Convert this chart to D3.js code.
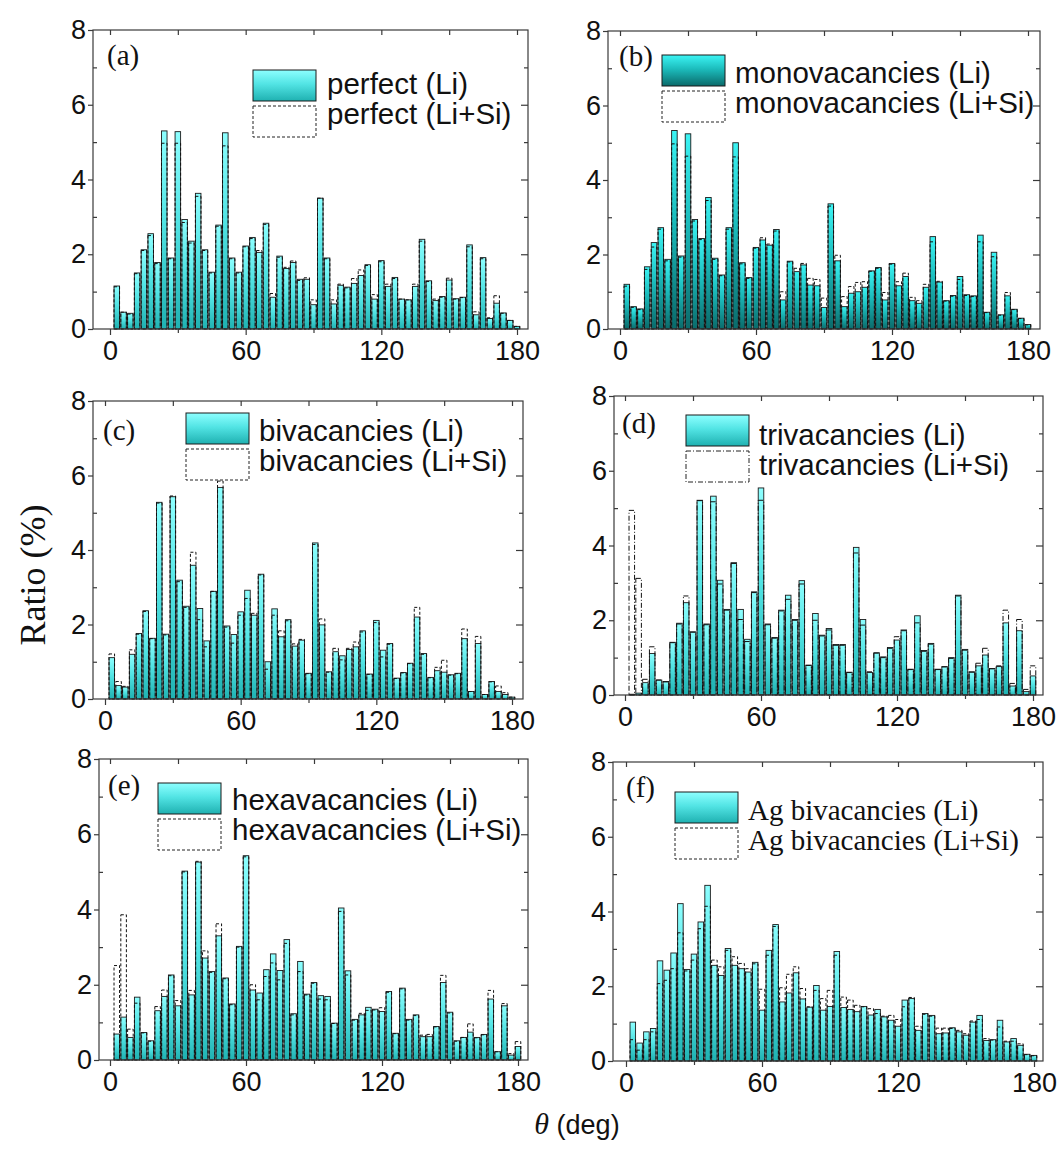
<!DOCTYPE html>
<html><head><meta charset="utf-8">
<script src="https://cdn.jsdelivr.net/npm/d3@7"></script>
<style>body{margin:0;background:#fff} svg{display:block}</style>
</head><body>
<svg id="c" width="1057" height="1153"></svg>
<script>
// bin centres (deg)
const angles = [3,6,9,12,15,18,21,24,27,30,33,36,39,42,45,48,51,54,57,60,63,66,69,72,75,78,81,84,87,90,
  93,96,99,102,105,108,111,114,117,120,123,126,129,132,135,138,141,144,147,150,153,156,159,162,165,168,171,174,177,180];
const xTickLabels = [0,60,120,180];
const yTickLabels = [0,2,4,6,8];

const perfectLi = [1.15,0.45,0.42,1.5,2.12,2.55,1.78,5.3,1.9,5.28,2.93,2.35,3.63,2.12,1.52,2.78,5.25,1.9,1.52,2.22,2.45,2.05,2.83,0.85,1.95,1.62,1.78,1.33,1.33,0.65,3.5,1.9,0.67,1.17,1.12,1.22,1.43,1.72,0.8,1.83,1.14,1.38,0.8,0.78,1.14,2.4,1.29,0.76,0.87,1.31,0.81,0.85,2.25,0.38,1.91,0.28,0.69,0.43,0.23,0.07];
const perfectLiSi = [1.13,0.45,0.4,1.48,2.1,2.5,1.75,4.97,1.88,4.97,2.85,2.3,3.55,2.1,1.5,2.75,4.9,1.88,1.5,2.2,2.42,2.1,2.8,0.95,1.92,1.65,1.82,1.3,1.37,0.78,3.5,1.88,0.78,1.2,1.1,1.35,1.58,1.7,0.92,1.8,1.2,1.35,0.8,0.78,1.2,2.35,1.27,0.8,0.85,1.36,0.8,0.84,2.2,0.46,1.88,0.3,0.89,0.42,0.23,0.07];
const monoLi = [1.2,0.6,0.54,1.67,2.32,2.72,1.87,5.33,1.96,5.24,2.94,2.43,3.53,1.9,1.45,2.72,5.0,1.78,1.38,2.19,2.39,2.25,2.67,0.78,1.82,1.54,1.72,1.18,1.16,0.58,3.36,1.83,0.6,0.96,1.0,1.12,1.56,1.65,0.78,1.76,1.16,1.41,0.76,0.69,1.12,2.48,1.26,0.76,0.9,1.41,0.92,0.89,2.52,0.45,2.06,0.38,0.89,0.53,0.29,0.12];
const monoLiSi = [1.15,0.58,0.52,1.6,2.2,2.68,1.83,4.97,1.93,4.64,2.9,2.4,3.45,1.87,1.43,2.68,4.62,1.75,1.36,2.17,2.45,2.28,2.63,1.0,1.8,1.63,1.76,1.36,1.33,0.83,3.3,1.98,0.87,1.14,1.25,1.27,1.55,1.63,0.98,1.74,1.27,1.5,0.85,0.76,1.2,2.34,1.28,0.75,0.88,1.33,0.9,0.87,2.34,0.44,1.94,0.37,0.98,0.52,0.28,0.11];
const biLi = [1.11,0.36,0.32,1.2,1.76,2.37,1.63,5.28,1.74,5.43,3.19,2.49,3.59,2.43,1.56,2.89,5.68,1.96,1.73,2.34,2.92,2.25,3.35,1.0,2.42,1.67,2.13,1.42,1.58,0.69,4.19,1.99,0.73,1.27,1.16,1.33,1.4,1.83,0.67,2.11,1.31,1.49,0.56,0.71,0.96,2.2,1.22,0.58,0.76,0.72,0.65,0.69,1.62,0.2,1.49,0.12,0.47,0.2,0.12,0.05];
const biLiSi = [1.21,0.47,0.34,1.32,1.74,2.35,1.62,5.26,1.72,5.45,3.15,2.46,3.94,2.13,1.4,2.89,5.85,1.93,1.5,2.25,2.7,2.3,3.33,0.8,2.25,1.83,2.1,1.48,1.6,0.68,4.15,2.15,0.72,1.36,1.05,1.36,1.53,1.8,0.66,2.05,1.13,1.47,0.55,0.7,0.95,2.46,1.2,0.57,0.85,1.04,0.64,0.68,1.88,0.2,1.68,0.12,0.46,0.35,0.17,0.05];
const triLi = [0.02,0.05,0.33,1.11,0.4,0.36,1.41,1.92,2.47,1.69,5.21,1.9,5.32,3.07,2.29,3.54,2.29,1.49,2.76,5.54,1.9,1.54,2.27,2.67,2.02,3.06,0.8,2.18,1.6,1.78,1.35,1.35,0.61,3.95,2.02,0.6,1.13,1.02,1.27,1.47,1.74,0.69,2.12,1.19,1.38,0.69,0.76,1.0,2.67,1.22,0.62,0.78,1.07,0.71,0.76,1.93,0.24,1.72,0.09,0.51];
const triLiSi = [4.94,3.12,0.42,1.29,0.4,0.35,1.4,1.9,2.65,1.68,5.2,1.88,5.17,2.97,2.27,3.52,2.02,1.43,2.74,5.21,1.88,1.52,2.25,2.56,2.0,2.97,0.79,2.0,1.58,1.74,1.33,1.33,0.6,3.8,1.87,0.62,1.12,1.0,1.25,1.56,1.72,0.68,1.93,1.17,1.36,0.68,0.75,0.98,2.65,1.2,0.61,0.85,1.25,0.7,0.78,2.27,0.31,2.02,0.15,0.78];
const hexaLi = [0.69,1.14,0.6,1.67,0.73,0.51,1.31,1.69,2.26,1.44,5.02,1.73,5.26,2.71,2.35,3.3,2.18,1.49,3.02,5.43,1.86,1.78,2.4,2.82,2.38,3.2,1.23,2.62,1.75,2.06,1.71,1.69,0.98,4.04,2.37,1.08,1.2,1.4,1.35,1.29,1.82,0.71,1.91,1.08,1.2,0.62,0.62,0.89,2.06,1.27,0.51,0.6,0.74,0.6,0.68,1.62,0.22,1.44,0.13,0.36];
const hexaLiSi = [2.51,3.86,0.82,1.51,0.72,0.5,1.42,1.86,2.24,1.58,5.0,1.85,5.28,2.9,2.33,3.62,2.16,1.47,3.0,5.4,2.0,1.6,2.22,2.58,2.13,3.1,1.2,2.35,1.73,2.04,1.62,1.6,0.97,3.95,2.26,1.06,1.24,1.32,1.33,1.39,1.8,0.7,1.89,1.06,1.18,0.66,0.68,0.88,2.25,1.25,0.5,0.6,0.96,0.59,0.67,1.85,0.22,1.5,0.17,0.49];
const agLi = [1.04,0.48,0.78,0.87,2.68,2.43,2.89,4.21,2.45,2.86,3.72,4.7,2.56,2.29,3.01,2.56,2.47,2.38,2.64,1.36,2.96,3.65,1.58,1.82,2.36,1.66,1.44,2.02,1.36,1.46,2.93,1.43,1.38,1.32,1.46,1.23,1.38,1.18,1.09,0.93,1.63,1.67,0.82,1.27,1.22,0.73,0.75,0.89,0.78,0.69,1.04,1.22,0.55,0.57,1.09,0.51,0.6,0.42,0.18,0.15];
const agLiSi = [0.57,0.29,0.57,0.78,2.07,2.16,2.47,3.43,2.41,2.7,3.54,4.14,2.7,2.52,2.96,2.79,2.61,2.47,2.6,1.92,2.83,3.6,1.96,2.32,2.52,1.94,1.45,1.89,1.67,1.89,2.83,1.71,1.63,1.49,1.45,1.4,1.27,1.2,1.22,1.11,1.45,1.7,0.93,1.25,1.2,0.88,0.88,0.87,0.82,0.73,1.07,1.11,0.6,0.56,0.91,0.53,0.53,0.46,0.17,0.14];

const panelTags = ["(a)","(b)","(c)","(d)","(e)","(f)"];
const legendLi = ["perfect (Li)","monovacancies (Li)","bivacancies (Li)","trivacancies (Li)","hexavacancies (Li)","Ag bivacancies (Li)"];
const legendLiSi = ["perfect (Li+Si)","monovacancies (Li+Si)","bivacancies (Li+Si)","trivacancies (Li+Si)","hexavacancies (Li+Si)","Ag bivacancies (Li+Si)"];
const seriesLi = [perfectLi, monoLi, biLi, triLi, hexaLi, agLi];
const seriesLiSi = [perfectLiSi, monoLiSi, biLiSi, triLiSi, hexaLiSi, agLiSi];

const SANS = "'Liberation Sans', Arial, Helvetica, sans-serif";
const SERIF = "'Liberation Serif', 'Times New Roman', serif";

// layout (pixels)
const layout = [
  {l:93, r:528, t:30, b:329, x0:110, x180:517, sx:253, sy:70, tx:327, ty:86, tagX:107, tagY:65, grad:"gLight", dash:"3,2", legFont:SANS},
  {l:608, r:1040, t:31, b:329, x0:620, x180:1028, sx:662, sy:55, tx:735, ty:75, tagX:619, tagY:66, grad:"gDark", dash:"3,2", legFont:SANS},
  {l:93, r:523, t:401, b:699, x0:105, x180:512, sx:186, sy:413, tx:259, ty:433, tagX:103, tagY:440, grad:"gLight", dash:"3,2", legFont:SANS},
  {l:614, r:1043, t:396, b:695, x0:625, x180:1033, sx:686, sy:415, tx:759, ty:437, tagX:622, tagY:433, grad:"gLight", dash:"5,2,1,2", legFont:SANS},
  {l:99, r:528, t:759, b:1060, x0:110, x180:518, sx:158, sy:783, tx:232, ty:802, tagX:108, tagY:795, grad:"gLight", dash:"3,2", legFont:SANS},
  {l:613, r:1043, t:762, b:1061, x0:626, x180:1034, sx:675, sy:792, tx:748, ty:812, tagX:626, tagY:797, grad:"gLight", dash:"3,2", legFont:SERIF}
];

const svg = d3.select("#c");
const defs = svg.append("defs");
function grad(id, c1, c2, c3){
  const g = defs.append("linearGradient").attr("id", id).attr("x1",0).attr("y1",0).attr("x2",0).attr("y2",1);
  g.append("stop").attr("offset","0%").attr("stop-color",c1);
  g.append("stop").attr("offset","45%").attr("stop-color",c2);
  g.append("stop").attr("offset","100%").attr("stop-color",c3);
}
grad("gLight", "#8dffff", "#52e4e4", "#1fb1b1");
grad("gDark", "#3cf4f4", "#1cbcbc", "#0a6a6a");

layout.forEach((L, i) => {
  const g = svg.append("g");
  const x = d3.scaleLinear().domain([0,180]).range([L.x0, L.x180]);
  const y = d3.scaleLinear().domain([0,8]).range([L.b, L.t]);
  const bw = x(2.45) - x(0);
  const li = seriesLi[i], lisi = seriesLiSi[i];

  // Li bars
  g.append("g").selectAll("rect").data(angles).join("rect")
    .attr("x", (d) => x(d) - bw/2)
    .attr("width", bw)
    .attr("y", (d, k) => y(li[k]))
    .attr("height", (d, k) => y(0) - y(li[k]))
    .attr("fill", `url(#${L.grad})`)
    .attr("stroke", "#1b1b1b").attr("stroke-width", 0.9);

  // Li+Si bars (outline)
  g.append("g").selectAll("rect").data(angles).join("rect")
    .attr("x", (d) => x(d) - bw/2)
    .attr("width", bw)
    .attr("y", (d, k) => y(lisi[k]))
    .attr("height", (d, k) => y(0) - y(lisi[k]))
    .attr("fill", "none")
    .attr("stroke", "#111").attr("stroke-width", 1)
    .attr("stroke-dasharray", L.dash);

  // frame
  g.append("rect").attr("x", L.l).attr("y", L.t).attr("width", L.r - L.l).attr("height", L.b - L.t)
    .attr("fill", "none").attr("stroke", "#3a3a3a").attr("stroke-width", 1.2);

  const styleAxis = (sel) => {
    sel.select(".domain").remove();
    sel.selectAll("line").attr("stroke", "#3a3a3a").attr("stroke-width", 1.2);
    sel.selectAll("text").attr("font-family", SANS).attr("font-size", 27).attr("fill", "#111");
  };
  // bottom axis
  g.append("g").attr("transform", `translate(0,${L.b})`)
    .call(d3.axisBottom(x).tickValues(xTickLabels).tickSize(6).tickPadding(6).tickFormat(d3.format("d"))).call(styleAxis);
  g.append("g").attr("transform", `translate(0,${L.b})`)
    .call(d3.axisBottom(x).tickValues([30,90,150]).tickSize(4).tickFormat("")).call(styleAxis);
  // top axis
  g.append("g").attr("transform", `translate(0,${L.t})`)
    .call(d3.axisTop(x).tickValues([0,30,60,90,120,150,180]).tickSize(-5).tickFormat("")).call(styleAxis);
  // left axis
  g.append("g").attr("transform", `translate(${L.l},0)`)
    .call(d3.axisLeft(y).tickValues(yTickLabels).tickSize(5).tickPadding(2).tickFormat(d3.format("d"))).call(styleAxis);
  g.append("g").attr("transform", `translate(${L.l},0)`)
    .call(d3.axisLeft(y).tickValues([1,3,5,7]).tickSize(-4).tickFormat("")).call(styleAxis);
  // right axis
  g.append("g").attr("transform", `translate(${L.r},0)`)
    .call(d3.axisRight(y).tickValues([2,4,6]).tickSize(-7).tickFormat("")).call(styleAxis);
  g.append("g").attr("transform", `translate(${L.r},0)`)
    .call(d3.axisRight(y).tickValues([1,3,5,7]).tickSize(-4).tickFormat("")).call(styleAxis);

  // panel tag
  g.append("text").attr("x", L.tagX).attr("y", L.tagY).text(panelTags[i])
    .attr("font-family", SERIF).attr("font-size", 29).attr("fill", "#111");

  // legend
  const sw = 63, sh = 31;
  g.append("rect").attr("x", L.sx).attr("y", L.sy).attr("width", sw).attr("height", sh)
    .attr("fill", `url(#${L.grad})`).attr("stroke", "#1b1b1b").attr("stroke-width", 1);
  g.append("rect").attr("x", L.sx).attr("y", L.sy + sh + 5).attr("width", sw).attr("height", sh)
    .attr("fill", "none").attr("stroke", "#222").attr("stroke-width", 1).attr("stroke-dasharray", L.dash);
  const fs = L.legFont === SERIF ? 29 : 29.5;
  g.append("text").attr("x", L.tx).attr("y", L.ty + 8).text(legendLi[i])
    .attr("font-family", L.legFont).attr("font-size", fs).attr("fill", "#111");
  g.append("text").attr("x", L.tx).attr("y", L.ty + 38).text(legendLiSi[i])
    .attr("font-family", L.legFont).attr("font-size", fs).attr("fill", "#111");
});

// axis titles
svg.append("text").attr("transform", "translate(45,575) rotate(-90)").attr("text-anchor", "middle")
  .attr("font-family", SERIF).attr("font-size", 36).attr("fill", "#111").text("Ratio (%)");
const xt = svg.append("text").attr("x", 577).attr("y", 1134).attr("text-anchor", "middle").attr("fill", "#111");
xt.append("tspan").attr("font-family", SERIF).attr("font-style", "italic").attr("font-size", 30).text("θ");
xt.append("tspan").attr("font-family", SANS).attr("font-size", 27).text(" (deg)");
</script>
</body></html>
